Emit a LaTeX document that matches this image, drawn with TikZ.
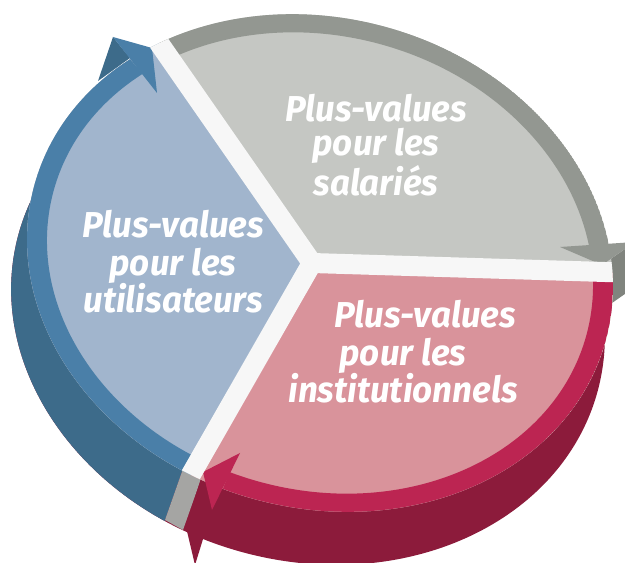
\documentclass[tikz,border=0pt]{standalone}
\usepackage[dvipsnames]{xcolor}
\usepackage{tikz}
\usepackage{fontspec}
\newfontfamily\piefont{Fira Sans}[FakeStretch=0.97]

\definecolor{bluetop}{HTML}{A1B5CD}
\definecolor{bluering}{HTML}{4A7FA8}
\definecolor{blueside}{HTML}{3D6B8A}
\definecolor{graytop}{HTML}{C5C7C3}
\definecolor{grayring}{HTML}{939791}
\definecolor{grayside}{HTML}{80847E}
\definecolor{redtop}{HTML}{D9939B}
\definecolor{redring}{HTML}{BC2552}
\definecolor{redside}{HTML}{8C1B3B}
\definecolor{splitwhite}{HTML}{F7F7F7}
\definecolor{splitside}{HTML}{A5A5A3}

\tikzset{
  tilt/.style={rotate around={-15:(320,300)}},
  lowtilt/.style={rotate around={-15:(308,250)}},
  ring/.style={tilt,even odd rule},
  split/.style={splitwhite,line width=20},
  pietext/.style={text=white,align=center,font=\piefont\bfseries\itshape\fontsize{36}{37.5}\selectfont}
}

\begin{document}
\begin{tikzpicture}[x=1pt,y=1pt]
  \useasboundingbox (0,0) rectangle (625,563);
  \coordinate (J) at (312,300);

  \fill[redside,lowtilt] (308,250) ellipse [x radius=300, y radius=248];
  \begin{scope}
    \clip (70,-227) -- (355,583) -- (-300,583) -- (-300,-227) -- cycle;
    \fill[blueside,lowtilt] (308,250) ellipse [x radius=300, y radius=248];
  \end{scope}
  \fill[splitside] (184,97) -- (202,87) -- (183,33) -- (165,43) -- cycle;

  \fill[blueside] (113,526) -- (98,482) -- (130,505) -- cycle;
  \fill[grayside] (602,298) -- (635,321) -- (645,283) -- (612,260) -- cycle;
  \fill[redside] (203,91) -- (186,36) -- (195,-2) -- (212,53) -- cycle;

  \begin{scope}
    \clip[tilt] (320,300) ellipse [x radius=296, y radius=245];
    \fill[graytop] (-10,-10) rectangle (640,580);
    \fill[bluetop] (J) -- (-45,-324) -- (-600,-324) -- (-600,960) -- (-147,960) -- cycle;
    \fill[redtop] (J) -- (1191,273) -- (1191,-324) -- (-45,-324) -- cycle;
    \begin{scope}
      \clip (J) -- (-45,-324) -- (-600,-324) -- (-600,894) -- (-219,894) -- cycle;
      \fill[ring,bluering] (320,300) ellipse [x radius=296, y radius=245]
        (320,300) ellipse [x radius=276, y radius=227];
    \end{scope}
    \begin{scope}
      \clip (J) -- (-147,960) -- (1191,960) -- (1167,354) -- cycle;
      \fill[ring,grayring] (320,300) ellipse [x radius=296, y radius=245]
        (320,300) ellipse [x radius=276, y radius=227];
    \end{scope}
    \begin{scope}
      \clip (J) -- (1191,273) -- (1191,-324) -- (54,-354) -- cycle;
      \fill[ring,redring] (320,300) ellipse [x radius=296, y radius=245]
        (320,300) ellipse [x radius=276, y radius=227];
    \end{scope}
  \end{scope}

  \fill[bluering] (113,526) -- (157,470) -- (152,515) -- cycle;
  \fill[grayring] (560,316) -- (635,321) -- (602,298) -- cycle;
  \fill[redring] (240,110) -- (212,53) -- (203,91) -- cycle;

  \begin{scope}
    \clip[tilt] (320,300) ellipse [x radius=296, y radius=245];
    \draw[split] (-147,960) -- (J) -- (1191,273) (J) -- (-45,-324);
  \end{scope}

  \node[pietext] (salaries) at (376,418) {Plus-values\\[-4pt]pour les\\[1pt]salariés};
  \node[pietext] (utilisateurs) at (173,301) {Plus-values\\pour les\\utilisateurs};
  \node[pietext] (institutionnels) at (403,211) {\hspace*{44pt}Plus-values\\pour les\\institutionnels};
\end{tikzpicture}
\end{document}
